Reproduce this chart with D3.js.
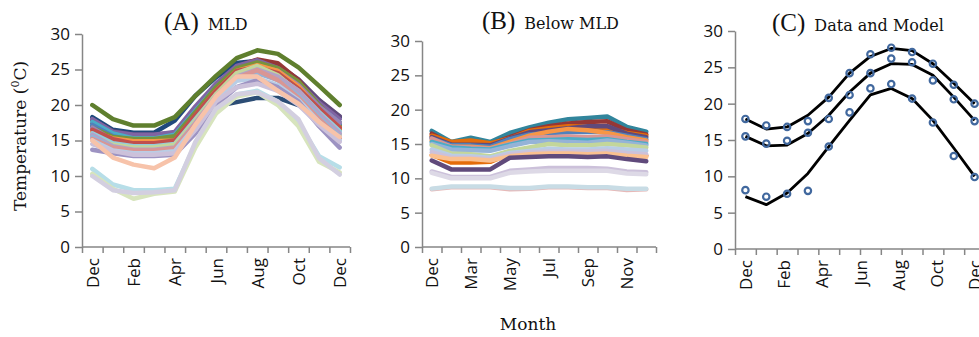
<!DOCTYPE html>
<html>
<head>
<meta charset="utf-8">
<script src="https://cdn.jsdelivr.net/npm/d3@7"></script>
<style>
  body { margin: 0; background: #fff; }
  svg { display: block; }
</style>
</head>
<body>
<svg id="chart" width="979" height="337"></svg>
<script>
// month categories for each panel
var monthsA = ["Dec", "Jan", "Feb", "Mar", "Apr", "May", "Jun", "Jul", "Aug", "Sep", "Oct", "Nov", "Dec"];
var monthsB = ["Dec", "Feb", "Mar", "Apr", "May", "Jun", "Jul", "Aug", "Sep", "Oct", "Nov", "Dec"];
var monthsC = ["Dec", "Jan", "Feb", "Mar", "Apr", "May", "Jun", "Jul", "Aug", "Sep", "Oct", "Nov"];
var labelsC = ["Dec", "Feb", "Apr", "Jun", "Aug", "Oct", "Dec"];
var labelMonthC = [0, 2, 4, 6, 8, 10, 12];
var yTicks = [0, 5, 10, 15, 20, 25, 30];

// (A) temperature in the mixed layer, one row per station
var mldColors = [
    "#2C4D75", "#1F497D", "#604A7B", "#953735", "#8064A2", "#4BACC6", "#4F81BD",
    "#77933C", "#9983B5", "#E46C0A", "#F79646", "#C0504D", "#93CDDD", "#C3D69B",
    "#B3A2C7", "#95B3D7", "#D99694", "#B9CDE5", "#9D93C2", "#CCC1DA", "#F7C3AA",
    "#B7DEE8", "#D7E4BD", "#D3CFE0", "#5F7F2E"
];
var mldSeries = [
    [17.0, 15.8, 15.5, 15.5, 16.0, 18.0, 19.8, 20.4, 21.0, 21.0, 20.0, 18.0, 16.5],
    [18.3, 16.5, 16.1, 16.1, 17.8, 21.3, 23.9, 25.9, 26.2, 25.5, 23.4, 20.6, 18.3],
    [17.9, 16.3, 15.8, 15.8, 16.1, 19.5, 22.8, 25.3, 26.2, 25.6, 23.6, 20.7, 18.4],
    [17.5, 16.0, 15.6, 15.6, 16.0, 19.5, 22.8, 25.4, 26.4, 25.9, 23.5, 20.0, 17.5],
    [18.0, 16.2, 15.8, 15.8, 16.2, 19.8, 23.0, 25.5, 26.3, 25.2, 23.2, 20.3, 18.0],
    [17.6, 16.0, 15.3, 15.3, 15.8, 19.2, 22.5, 25.0, 25.8, 24.8, 22.8, 19.8, 17.5],
    [17.2, 15.6, 15.0, 15.0, 15.5, 19.0, 22.3, 24.9, 25.6, 24.6, 22.4, 19.5, 17.2],
    [16.8, 15.5, 15.2, 15.2, 15.6, 19.0, 22.5, 25.2, 26.0, 25.2, 23.3, 20.0, 17.0],
    [16.8, 15.0, 14.3, 14.3, 14.6, 18.0, 21.8, 24.6, 25.5, 24.8, 22.8, 19.8, 17.5],
    [16.0, 15.0, 14.6, 14.6, 14.8, 18.2, 21.8, 24.5, 25.3, 24.5, 22.2, 19.0, 16.5],
    [16.2, 15.3, 14.9, 14.9, 15.0, 18.5, 22.0, 24.8, 25.6, 24.8, 22.6, 19.3, 16.8],
    [16.5, 15.2, 14.6, 14.6, 15.0, 18.6, 22.0, 24.8, 25.3, 24.5, 22.3, 19.5, 16.8],
    [16.0, 14.6, 14.2, 14.2, 14.5, 18.0, 21.5, 24.2, 25.0, 24.0, 22.0, 19.0, 16.3],
    [15.6, 14.4, 14.0, 14.0, 14.4, 17.8, 21.5, 24.5, 25.5, 24.2, 21.8, 18.6, 15.8],
    [15.8, 14.2, 13.7, 13.7, 14.0, 17.5, 21.2, 24.0, 25.0, 24.0, 22.0, 18.8, 16.0],
    [15.5, 14.0, 13.5, 13.5, 13.8, 17.2, 21.0, 23.8, 24.5, 23.5, 21.3, 18.3, 15.5],
    [15.2, 14.0, 13.6, 13.6, 13.9, 17.3, 21.0, 23.8, 24.9, 23.5, 21.0, 18.0, 15.3],
    [15.0, 13.6, 13.2, 13.2, 13.5, 17.0, 20.8, 23.4, 23.8, 22.8, 20.7, 17.6, 15.0],
    [13.7, 13.2, 12.8, 12.8, 13.0, 16.0, 20.0, 22.5, 23.5, 22.5, 20.5, 17.0, 14.0],
    [14.5, 13.5, 13.0, 13.0, 13.2, 16.5, 20.5, 22.5, 23.0, 22.0, 20.0, 17.2, 14.8],
    [15.0, 12.6, 11.6, 11.1, 12.6, 17.2, 21.2, 24.0, 24.0, 22.0, 20.2, 17.6, 15.5],
    [11.0, 8.8, 8.0, 8.0, 8.2, 14.5, 19.0, 21.5, 22.0, 20.5, 17.5, 12.8, 11.2],
    [10.3, 8.2, 6.8, 7.5, 7.8, 14.0, 18.8, 21.2, 21.8, 20.0, 17.0, 12.0, 10.5],
    [10.0, 8.0, 7.6, 7.7, 8.0, 14.8, 19.5, 21.5, 21.8, 20.5, 18.0, 12.5, 10.2],
    [20.0, 18.0, 17.1, 17.1, 18.3, 21.3, 24.1, 26.6, 27.7, 27.2, 25.3, 22.7, 20.0]
];

// (B) temperature below the mixed layer
var belowColors = [
    "#31859C", "#953735", "#E46C0A", "#604A7B", "#4F81BD", "#F79646", "#D99694",
    "#4BACC6", "#95B3D7", "#E46C0A", "#C3D69B", "#B9CDE5", "#CCC1DA", "#FAC090",
    "#604A7B", "#CCC1DA", "#DDD9E6", "#E6B9B8", "#C8DCE5"
];
var belowSeries = [
    [16.9, 15.3, 15.9, 15.3, 16.6, 17.4, 18.1, 18.6, 18.8, 19.0, 17.5, 16.8],
    [16.5, 15.0, 15.2, 15.0, 16.0, 17.0, 17.6, 18.0, 18.2, 18.3, 17.0, 16.4],
    [16.2, 15.3, 15.5, 15.1, 15.8, 16.9, 17.3, 17.6, 17.5, 17.3, 16.6, 16.2],
    [16.0, 14.9, 14.9, 14.8, 15.8, 16.7, 17.0, 17.3, 17.6, 17.6, 16.5, 16.0],
    [15.8, 14.8, 14.8, 14.6, 15.7, 16.4, 16.6, 16.7, 16.8, 16.7, 16.2, 15.7],
    [15.5, 14.6, 14.6, 14.4, 15.3, 16.2, 16.8, 17.2, 17.0, 16.6, 16.0, 15.5],
    [15.8, 14.6, 14.5, 14.3, 15.0, 15.9, 16.0, 16.1, 16.0, 16.1, 15.7, 15.3],
    [15.3, 14.5, 14.3, 14.2, 14.9, 15.5, 15.6, 15.7, 15.6, 15.7, 15.3, 15.0],
    [15.0, 14.2, 14.1, 14.0, 14.7, 15.3, 15.4, 15.3, 15.2, 15.5, 15.2, 14.8],
    [13.4, 12.3, 12.3, 12.4, 13.6, 13.8, 13.9, 13.9, 13.8, 13.9, 13.6, 13.3],
    [14.8, 13.6, 13.5, 13.2, 14.0, 14.5, 15.0, 14.8, 14.8, 15.0, 14.8, 14.5],
    [14.2, 13.3, 13.2, 13.0, 13.7, 14.0, 14.3, 14.2, 14.2, 14.4, 14.2, 14.0],
    [13.8, 13.0, 13.0, 12.8, 13.5, 13.8, 13.9, 13.9, 13.9, 14.0, 13.7, 13.5],
    [13.3, 12.8, 12.8, 12.6, 13.2, 13.5, 13.6, 13.6, 13.5, 13.6, 13.3, 13.1],
    [12.6, 11.3, 11.3, 11.3, 13.0, 13.1, 13.2, 13.2, 13.1, 13.2, 12.8, 12.5],
    [11.0, 10.2, 10.2, 10.2, 11.1, 11.3, 11.5, 11.5, 11.5, 11.4, 11.0, 10.9],
    [10.8, 10.0, 10.0, 10.0, 10.8, 11.0, 11.1, 11.1, 11.1, 11.1, 10.7, 10.6],
    [8.4, 8.7, 8.7, 8.7, 8.4, 8.5, 8.7, 8.7, 8.6, 8.6, 8.3, 8.4],
    [8.5, 8.8, 8.8, 8.8, 8.6, 8.6, 8.8, 8.8, 8.7, 8.7, 8.5, 8.5]
];

// (C) observed data (circles) and model (lines)
var dataTop = [17.9, 17.0, 16.8, 17.6, 20.8, 24.2, 26.8, 27.7, 27.1, 25.5, 22.6, 20.0];
var dataMid = [15.5, 14.5, 14.9, 16.0, 17.9, 21.2, 24.2, 26.2, 25.7, 23.2, 20.6, 17.6];
var dataLow = [8.1, 7.2, 7.6, 8.0, 14.1, 18.8, 22.1, 22.7, 20.7, 17.4, 12.8, 9.9];
var modelTop = [17.9, 16.5, 16.8, 18.4, 20.9, 24.2, 26.5, 27.6, 27.3, 25.5, 22.8, 20.0];
var modelMid = [15.5, 14.2, 14.3, 15.9, 18.4, 21.6, 24.2, 25.5, 25.4, 23.9, 20.9, 17.7];
var modelLow = [7.2, 6.1, 7.7, 10.4, 14.1, 17.7, 21.2, 22.1, 20.7, 17.7, 13.9, 10.0];

var axisColor = "#868686";
var tickFont = "'Open Sans', sans-serif";
var serif = "'DejaVu Serif', serif";

var svg = d3.select("#chart");

function drawPanel(p) {
    var n = p.months.length;
    var x = d3.scaleLinear().domain([-0.5, n - 0.5]).range([p.x0, p.x1]);
    var y = d3.scaleLinear().domain([0, 30]).range([p.yBot, p.yTop]);

    var g = svg.append("g");

    // y axis
    g.append("g")
        .attr("transform", "translate(" + p.x0 + ",0)")
        .call(d3.axisLeft(y).tickValues(yTicks).tickSize(7).tickSizeOuter(0).tickPadding(5))
        .call(a => a.selectAll("path, line").attr("stroke", axisColor).attr("stroke-width", 1.5))
        .call(a => a.selectAll("text").attr("font-family", tickFont).attr("font-size", 17).attr("fill", "#111"));

    // x axis tick marks between categories
    g.append("g")
        .attr("transform", "translate(0," + p.yBot + ")")
        .call(d3.axisBottom(x).tickValues(d3.range(-0.5, n)).tickSize(6).tickSizeOuter(0).tickFormat(""))
        .call(a => a.select(".domain").attr("d", "M" + p.x0 + ",0H" + p.xEnd))
        .call(a => a.selectAll("path, line").attr("stroke", axisColor).attr("stroke-width", 1.5));

    // x labels
    var lx = p.labelScale || x;
    g.append("g")
        .attr("transform", "translate(0," + p.yBot + ")")
        .call(d3.axisBottom(lx).tickValues(p.labelAt).tickSize(0).tickFormat((d, i) => p.labels[i]))
        .call(a => a.select(".domain").remove())
        .call(a => a.selectAll("text")
            .attr("font-family", tickFont).attr("font-size", 17).attr("fill", "#111")
            .attr("transform", "rotate(-90)")
            .attr("text-anchor", "end")
            .attr("x", -11).attr("y", 0).attr("dy", "0.36em"));

    // panel title
    var t = g.append("text")
        .attr("x", p.titleX).attr("y", p.titleY)
        .attr("font-family", serif).attr("fill", "#111");
    t.append("tspan").attr("font-family", "'Liberation Serif', serif").attr("font-size", 25).text(p.tag);
    t.append("tspan").attr("dx", 9).attr("font-size", 16).text(p.title);

    return { g: g, x: x, y: y };
}

// panel A
var A = drawPanel({
    months: monthsA, x0: 82, x1: 350, xEnd: 350, yTop: 34, yBot: 247,
    labelAt: [0, 2, 4, 6, 8, 10, 12], labels: ["Dec", "Feb", "Apr", "Jun", "Aug", "Oct", "Dec"],
    tag: "(A)", title: "MLD", titleX: 164, titleY: 30
});
var lineA = d3.line().x((d, i) => A.x(i)).y(d => A.y(d));
A.g.append("g").selectAll("path")
    .data(mldSeries)
    .join("path")
    .attr("d", lineA)
    .attr("fill", "none")
    .attr("stroke", (d, i) => mldColors[i])
    .attr("stroke-width", 4.5)
    .attr("stroke-linejoin", "round")
    .attr("stroke-linecap", "round");

// panel B
var B = drawPanel({
    months: monthsB, x0: 422, x1: 656, xEnd: 656, yTop: 41, yBot: 247,
    labelAt: [0, 2, 4, 6, 8, 10], labels: ["Dec", "Mar", "May", "Jul", "Sep", "Nov"],
    tag: "(B)", title: "Below MLD", titleX: 482, titleY: 29
});
var lineB = d3.line().x((d, i) => B.x(i)).y(d => B.y(d));
B.g.append("g").selectAll("path")
    .data(belowSeries)
    .join("path")
    .attr("d", lineB)
    .attr("fill", "none")
    .attr("stroke", (d, i) => belowColors[i])
    .attr("stroke-width", 4.5)
    .attr("stroke-linejoin", "round")
    .attr("stroke-linecap", "round");

// panel C: labels are spread evenly from the first to the last point
var xC = d3.scaleLinear().domain([-0.5, monthsC.length - 0.5]).range([735, 985]);
var C = drawPanel({
    months: monthsC, x0: 735, x1: 985, xEnd: 979, yTop: 31, yBot: 249,
    labelScale: d3.scaleLinear().domain([0, 12]).range([xC(0), xC(monthsC.length - 1)]),
    labelAt: labelMonthC, labels: labelsC,
    tag: "(C)", title: "Data and Model", titleX: 772, titleY: 31
});
var lineC = d3.line().x((d, i) => C.x(i)).y(d => C.y(d));
C.g.append("g").selectAll("path")
    .data([modelTop, modelMid, modelLow])
    .join("path")
    .attr("d", lineC)
    .attr("fill", "none")
    .attr("stroke", "#000")
    .attr("stroke-width", 2.8)
    .attr("stroke-linejoin", "round");
C.g.append("g").selectAll("g")
    .data([dataTop, dataMid, dataLow])
    .join("g")
    .selectAll("circle")
    .data(d => d)
    .join("circle")
    .attr("cx", (d, i) => C.x(i))
    .attr("cy", d => C.y(d))
    .attr("r", 3.2)
    .attr("fill", "none")
    .attr("stroke", "#41689E")
    .attr("stroke-width", 2.2);

// shared axis titles
svg.append("text")
    .attr("transform", "translate(26,136) rotate(-90)")
    .attr("text-anchor", "middle")
    .attr("font-family", serif).attr("font-size", 17).attr("fill", "#111")
    .call(t => {
        t.append("tspan").text("Temperature (");
        t.append("tspan").attr("font-size", 11).attr("dy", -7).text("0");
        t.append("tspan").attr("dy", 7).text("C)");
    });

svg.append("text")
    .attr("x", 528).attr("y", 330)
    .attr("text-anchor", "middle")
    .attr("font-family", serif).attr("font-size", 17).attr("fill", "#111")
    .text("Month");
</script>
</body>
</html>
